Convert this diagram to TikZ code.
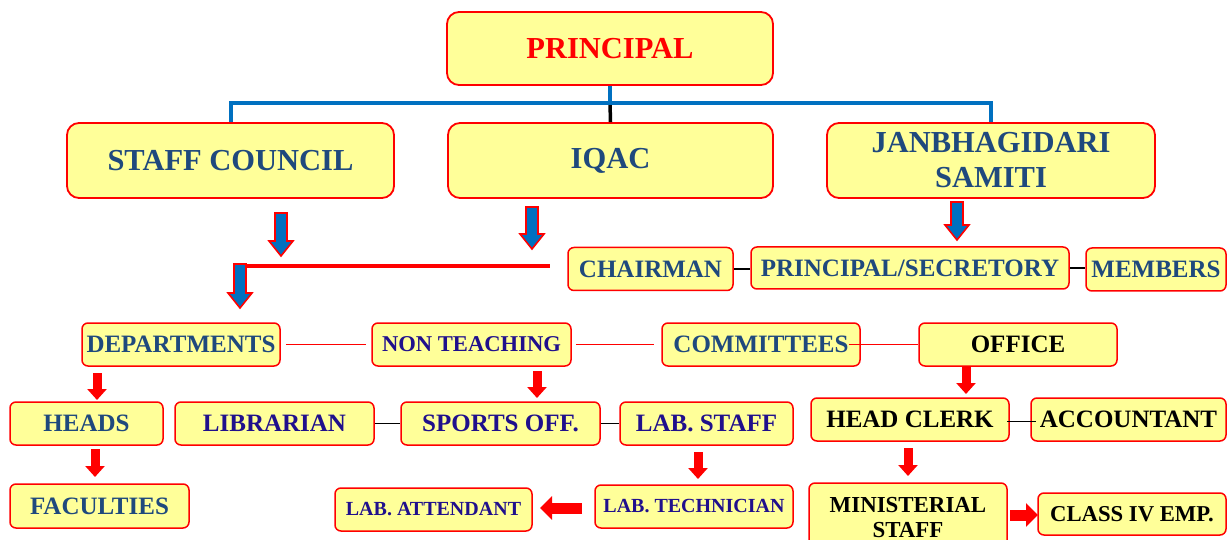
\documentclass[tikz,border=0pt]{standalone}
\usepackage{fontspec}
\setmainfont{Liberation Serif}
\usetikzlibrary{calc,arrows.meta}
\definecolor{boxfill}{RGB}{255,255,153}
\definecolor{tblue}{RGB}{31,73,125}
\definecolor{tindigo}{RGB}{32,16,140}
\definecolor{lblue}{RGB}{0,112,192}
\definecolor{bred}{RGB}{255,0,0}
\newcommand\bluearrow[3]{% x, ytop, ytip
  \filldraw[fill=lblue,draw=bred,line width=1.6pt,line join=miter]
    (#1-6,#2) -- (#1+6,#2) -- (#1+6,#3-15) -- (#1+12,#3-15) -- (#1,#3)
    -- (#1-12,#3-15) -- (#1-6,#3-15) -- cycle;}
\tikzset{
  box/.style={draw=bred, fill=boxfill, line width=1.5pt, rounded corners=6pt,
    inner sep=0pt, align=center, font=\bfseries\fontsize{25}{27}\selectfont},
  bigbox/.style={box, rounded corners=12pt, line width=1.8pt,
    font=\bfseries\fontsize{30.5}{35}\selectfont},
  blueline/.style={draw=lblue, line width=4pt},
  redthin/.style={draw=bred, line width=1.4pt},
  blackthin/.style={draw=black, line width=1.8pt},
  redarrow/.style={draw=bred, line width=9pt, -{Triangle[length=11pt,width=19pt]}},
  redharrow/.style={draw=bred, line width=11pt, -{Triangle[length=12pt,width=23pt]}},
}
\begin{document}
\begin{tikzpicture}[x=1pt,y=-1pt]
\useasboundingbox (0,0) rectangle (1227,540);
\clip (0,0) rectangle (1227,540);

% top level
\node[bigbox, text=bred, minimum width=326, minimum height=73] (prin) at (610,48.5) {PRINCIPAL};
\node[bigbox, text=tblue, minimum width=327, minimum height=75] (sc) at (230.5,160.5) {STAFF COUNCIL};
\node[bigbox, text=tblue, minimum width=325, minimum height=75] (iqac) at (610.5,160.5) {IQAC};
\node[bigbox, text=tblue, minimum width=328, minimum height=75] (jan) at (991,160.5) {JANBHAGIDARI\\SAMITI};

\coordinate (bus) at (610,103);
\draw[black, line width=3.5pt] (bus) -- (iqac.north);
\draw[blueline] (prin.south) -- (bus);
\draw[blueline] (sc.north) |- (bus) -| (jan.north);

% second level
\node[box, text=tblue, minimum width=165, minimum height=43] (chair) at (650.5,269) {CHAIRMAN};
\node[box, text=tblue, minimum width=318, minimum height=42] (psec) at (910,268) {PRINCIPAL/SECRETORY};
\node[box, text=tblue, minimum width=140, minimum height=43] (mem) at (1156,269.5) {MEMBERS};
\draw[blackthin] (chair.east) -- (chair.east -| psec.west);
\draw[blackthin] (psec.east) -- (psec.east -| mem.west);

\bluearrow{281}{213}{256}
\bluearrow{532}{207}{249}
\bluearrow{957}{202}{240}
\bluearrow{240}{264}{308}
\coordinate (redL) at (245,266);
\coordinate (redR) at (550,266);
\draw[draw=bred, line width=4pt] (redL) -- (redR);

% third level
\node[box, text=tblue, minimum width=198, minimum height=43] (dep) at (181,344.5) {DEPARTMENTS};
\node[box, text=tindigo, minimum width=199, minimum height=43, font=\bfseries\fontsize{22.6}{24}\selectfont] (nont) at (471.5,344.5) {NON TEACHING};
\node[box, text=tblue, minimum width=198, minimum height=43] (comm) at (761,344.5) {COMMITTEES};
\node[box, text=black, minimum width=198, minimum height=43] (office) at (1018,344.5) {OFFICE};
\draw[redthin, shorten <=5pt, shorten >=5pt] (dep.east) -- (nont.west);
\draw[redthin, shorten <=4pt, shorten >=7pt] (nont.east) -- (comm.west);
\draw[redthin, shorten <=-12pt] (comm.east) -- (office.west);

% fourth level
\node[box, text=tblue, minimum width=153, minimum height=43] (heads) at (86.5,423.5) {HEADS};
\node[box, text=tindigo, minimum width=199, minimum height=43] (lib) at (274.5,423.5) {LIBRARIAN};
\node[box, text=tindigo, minimum width=199, minimum height=43] (sports) at (500.5,423.5) {SPORTS OFF.};
\node[box, text=tindigo, minimum width=173, minimum height=43] (labs) at (706.5,423.5) {LAB. STAFF};
\node[box, text=black, minimum width=198, minimum height=43] (hclerk) at (910,419.5) {HEAD CLERK};
\node[box, text=black, minimum width=195, minimum height=43] (acct) at (1128.5,419.5) {ACCOUNTANT};
\draw[blackthin] (lib.east) -- (sports.west);
\draw[blackthin] (sports.east) -- (labs.west);
\draw[blackthin, shorten <=-3pt, shorten >=-6pt] ([yshift=-2pt]hclerk.east) -- ([yshift=-2pt]acct.west);

% fifth level
\node[box, text=tblue, minimum width=179, minimum height=44] (fac) at (99.5,506) {FACULTIES};
\node[box, text=tindigo, minimum width=197, minimum height=43, font=\bfseries\fontsize{20}{22}\selectfont] (labatt) at (433.5,509.5) {LAB. ATTENDANT};
\node[box, text=tindigo, minimum width=198, minimum height=43, font=\bfseries\fontsize{20}{22}\selectfont] (labtech) at (694,506.5) {LAB. TECHNICIAN};
\node[box, text=black, minimum width=198, minimum height=69, font=\bfseries\fontsize{22.9}{25}\selectfont] (min) at (908,517.5) {MINISTERIAL\\STAFF};
\node[box, text=black, minimum width=188, minimum height=42, font=\bfseries\fontsize{22.7}{24}\selectfont] (cls) at (1132,514) {CLASS IV EMP.};

% red block arrows
\coordinate (a1s) at (97,373);  \coordinate (a1e) at (97,400);
\coordinate (a2s) at (95,449);  \coordinate (a2e) at (95,477);
\coordinate (a3s) at (537,371); \coordinate (a3e) at (537,398);
\coordinate (a4s) at (966,367); \coordinate (a4e) at (966,394);
\coordinate (a5s) at (698,452); \coordinate (a5e) at (698,479);
\coordinate (a6s) at (908,448); \coordinate (a6e) at (908,476);
\coordinate (h1s) at (582,508); \coordinate (h1e) at (540,508);
\coordinate (h2s) at (1010,515); \coordinate (h2e) at (1038,515);
\draw[redarrow] (a1s) -- (a1e);
\draw[redarrow] (a2s) -- (a2e);
\draw[redarrow] (a3s) -- (a3e);
\draw[redarrow] (a4s) -- (a4e);
\draw[redarrow] (a5s) -- (a5e);
\draw[redarrow] (a6s) -- (a6e);
\draw[redharrow] (h1s) -- (h1e);
\draw[redharrow] (h2s) -- (h2e);
\end{tikzpicture}
\end{document}
